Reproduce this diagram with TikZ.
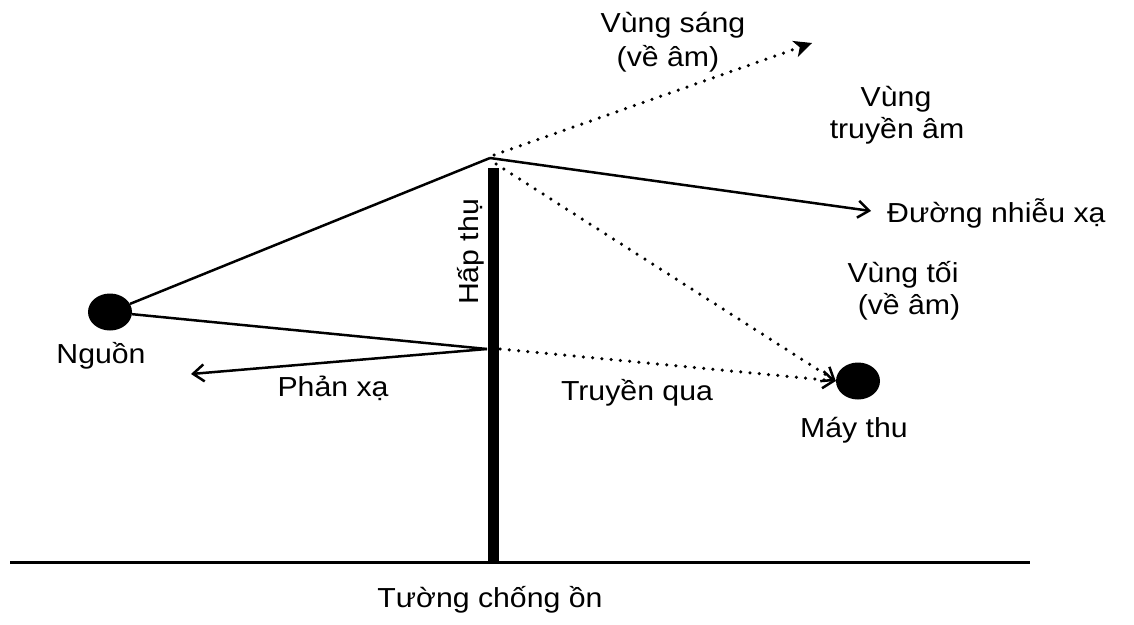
\documentclass[tikz,border=0pt]{standalone}
\usepackage{fontspec}
\setmainfont{Liberation Sans}[FakeStretch=1.1]
\usetikzlibrary{arrows.meta,shapes.geometric}
\tikzset{
  lbl/.style={inner sep=0pt, anchor=base, font=\fontsize{27.5}{32}\selectfont},
  dot/.style={ellipse, fill=black, inner sep=0pt, minimum width=44pt, minimum height=37pt},
  ray/.style={line width=2.5pt},
  dotray/.style={line width=3.5pt, line cap=round, dash pattern=on 0pt off 9.3pt},
  tipb/.style={-{Straight Barb[length=11pt,width=17pt,line width=2.5pt]}},
  tipf/.style={-{Stealth[length=18pt,width=17pt,inset=5pt,line width=1pt]}}
}
\begin{document}
\begin{tikzpicture}[x=1pt,y=-1pt]
\useasboundingbox (0,0) rectangle (1134,624);
% ground and wall
\coordinate (gl) at (10,562);
\coordinate (gr) at (1030,562);
\draw[line width=3pt] (gl) -- (gr);
\node[fill=black, inner sep=0pt, minimum width=11pt, minimum height=394pt, anchor=north] (wall) at (493.5,168) {};
% points
\coordinate (apex) at (490,158);
\coordinate (refl) at (487,349);
\coordinate (trans) at (500,349);
\coordinate (reflend) at (191,374);
\coordinate (diffend) at (871,211);
\coordinate (brightend) at (812,43);
% source and receiver
\node[dot] (src) at (110,312) {};
\node[dot] (rcv) at (858,381) {};
% rays
\draw[ray] (src) -- (apex);
\draw[ray] (src) -- (refl);
\draw[ray,tipb] (refl) -- (reflend);
\draw[ray,tipb] (apex) -- (diffend);
\draw[dotray,tipf] (apex) ++(4,-3) -- (brightend);
\draw[dotray,tipb] (apex) ++(6,6) -- (rcv.west);
\draw[dotray,tipb] (trans) -- (rcv.west);
% labels
\node[lbl] (vs1) at (673,32) {Vùng sáng};
\node[lbl] (vs2) at (668,66) {(về âm)};
\node[lbl] (vt1) at (896,106) {Vùng};
\node[lbl] (vt2) at (897,138) {truyền âm};
\node[lbl, anchor=base west] (dnx) at (887,222) {Đường nhiễu xạ};
\node[lbl] (vto1) at (903,282) {Vùng tối};
\node[lbl] (vto2) at (909,314) {(về âm)};
\node[lbl] (ng) at (101,363) {Nguồn};
\node[lbl] (px) at (333,396) {Phản xạ};
\node[lbl] (tq) at (637,400) {Truyền qua};
\node[lbl] (mt) at (854,437) {Máy thu};
\node[lbl] (tco) at (490,607) {Tường chống ồn};
\node[lbl, rotate=90] (ht) at (478,252) {Hấp thụ};
\end{tikzpicture}
\end{document}
